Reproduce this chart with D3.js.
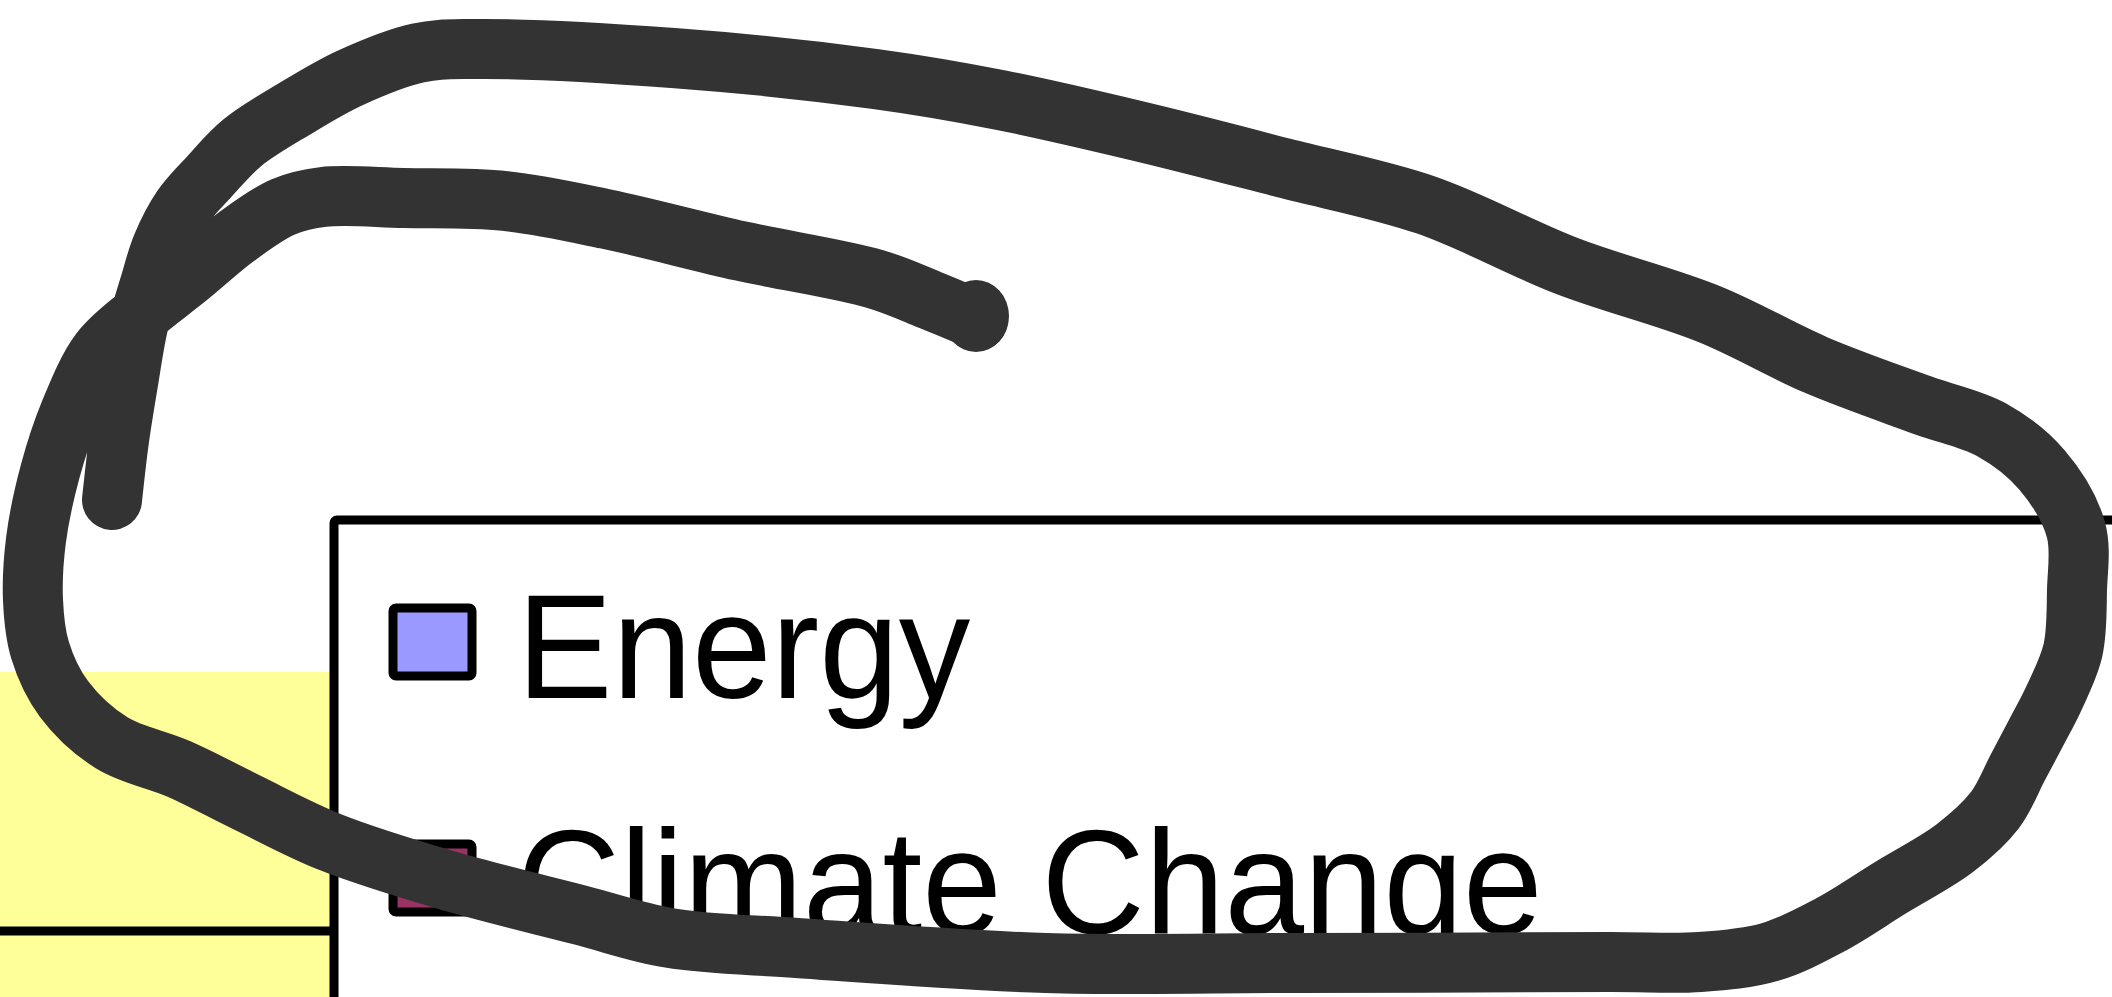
<!DOCTYPE html>
<html>
<head>
<meta charset="utf-8">
<script src="https://cdn.jsdelivr.net/npm/d3@7"></script>
<style>
  html, body { margin: 0; padding: 0; background: #fff; }
  svg { display: block; }
</style>
</head>
<body>
<svg id="chart" width="2112" height="997"></svg>
<script>
// legend entries and their colours
var seriesNames  = ["Energy", "Climate Change"];
var seriesColors = ["#9999ff", "#993366"];

// plot area behind the legend: one gridline visible in this crop
var gridValues = [0];
var plotTop = 1;

// hand drawn circle round the legend (pen trace, in pixels)
var scribble = [
  [978, 320], [930, 300], [875, 279], [741, 251], [606, 219], [505, 201],
  [404, 198], [323, 197], [283, 207], [236, 237], [189, 276], [141, 314],
  [100, 352], [70, 412], [50, 472], [36, 540], [33, 600], [40, 650],
  [64, 699], [112, 743], [179, 769], [246, 802], [330, 842], [446, 880],
  [580, 915], [670, 938], [797, 948], [1046, 963], [1295, 963], [1610, 962],
  [1700, 962], [1770, 952], [1830, 925], [1890, 888], [1955, 848], [1995, 810],
  [2018, 767], [2036, 733], [2054, 698], [2073, 650], [2077, 590], [2076, 530],
  [2042, 470], [1992, 430],
  [1922, 405], [1816, 365], [1709, 314], [1567, 266], [1426, 205], [1284, 168],
  [1142, 132], [1000, 100], [875, 79], [673, 58], [471, 49], [418, 53],
  [350, 78], [296, 108], [242, 143], [209, 177], [182, 208], [162, 246],
  [150, 284], [138, 326], [128, 383], [119, 440], [112, 500]
];

var svg = d3.select("#chart");
var W = 2112, H = 997;

svg.append("rect").attr("width", W).attr("height", H).attr("fill", "#fff");

// plot area
var y = d3.scaleLinear().domain([0, plotTop]).range([931, 672]);
var plotRight = 334;

svg.append("rect")
  .attr("x", 0)
  .attr("y", y(plotTop))
  .attr("width", plotRight)
  .attr("height", H - y(plotTop))
  .attr("fill", "#ffff99");

svg.selectAll(".grid")
  .data(gridValues)
  .enter().append("line")
  .attr("class", "grid")
  .attr("x1", 0).attr("x2", plotRight)
  .attr("y1", function(d) { return y(d); })
  .attr("y2", function(d) { return y(d); })
  .attr("stroke", "#000")
  .attr("stroke-width", 9);

// legend
var legend = svg.append("g").attr("class", "legend");
legend.append("rect")
  .attr("x", 334).attr("y", 520)
  .attr("width", 2000).attr("height", 800)
  .attr("rx", 3)
  .attr("fill", "#fff")
  .attr("stroke", "#000")
  .attr("stroke-width", 9);

var rowStep = 236;
var row = legend.selectAll(".item")
  .data(seriesNames)
  .enter().append("g")
  .attr("class", "item")
  .attr("transform", function(d, i) { return "translate(0," + (i * rowStep) + ")"; });

row.append("rect")
  .attr("x", 393).attr("y", 608)
  .attr("width", 79).attr("height", 68)
  .attr("rx", 3)
  .attr("fill", function(d, i) { return seriesColors[i]; })
  .attr("stroke", "#000")
  .attr("stroke-width", 9);

row.append("text")
  .attr("transform", "translate(517,698) scale(0.96,1)")
  .attr("font-family", "'Liberation Sans', Arial, sans-serif")
  .attr("font-size", 149)
  .attr("fill", "#000")
  .text(function(d) { return d; });

// the scribble goes over everything
var pen = d3.line().curve(d3.curveCatmullRom.alpha(0.5));
svg.append("path")
  .attr("d", pen(scribble))
  .attr("fill", "none")
  .attr("stroke", "#333333")
  .attr("stroke-width", 60)
  .attr("stroke-linecap", "round")
  .attr("stroke-linejoin", "round");

// the pen pressed harder where the stroke began
svg.append("ellipse")
  .attr("cx", scribble[0][0] - 2).attr("cy", scribble[0][1] - 4)
  .attr("rx", 33).attr("ry", 36)
  .attr("fill", "#333333");
</script>
</body>
</html>
